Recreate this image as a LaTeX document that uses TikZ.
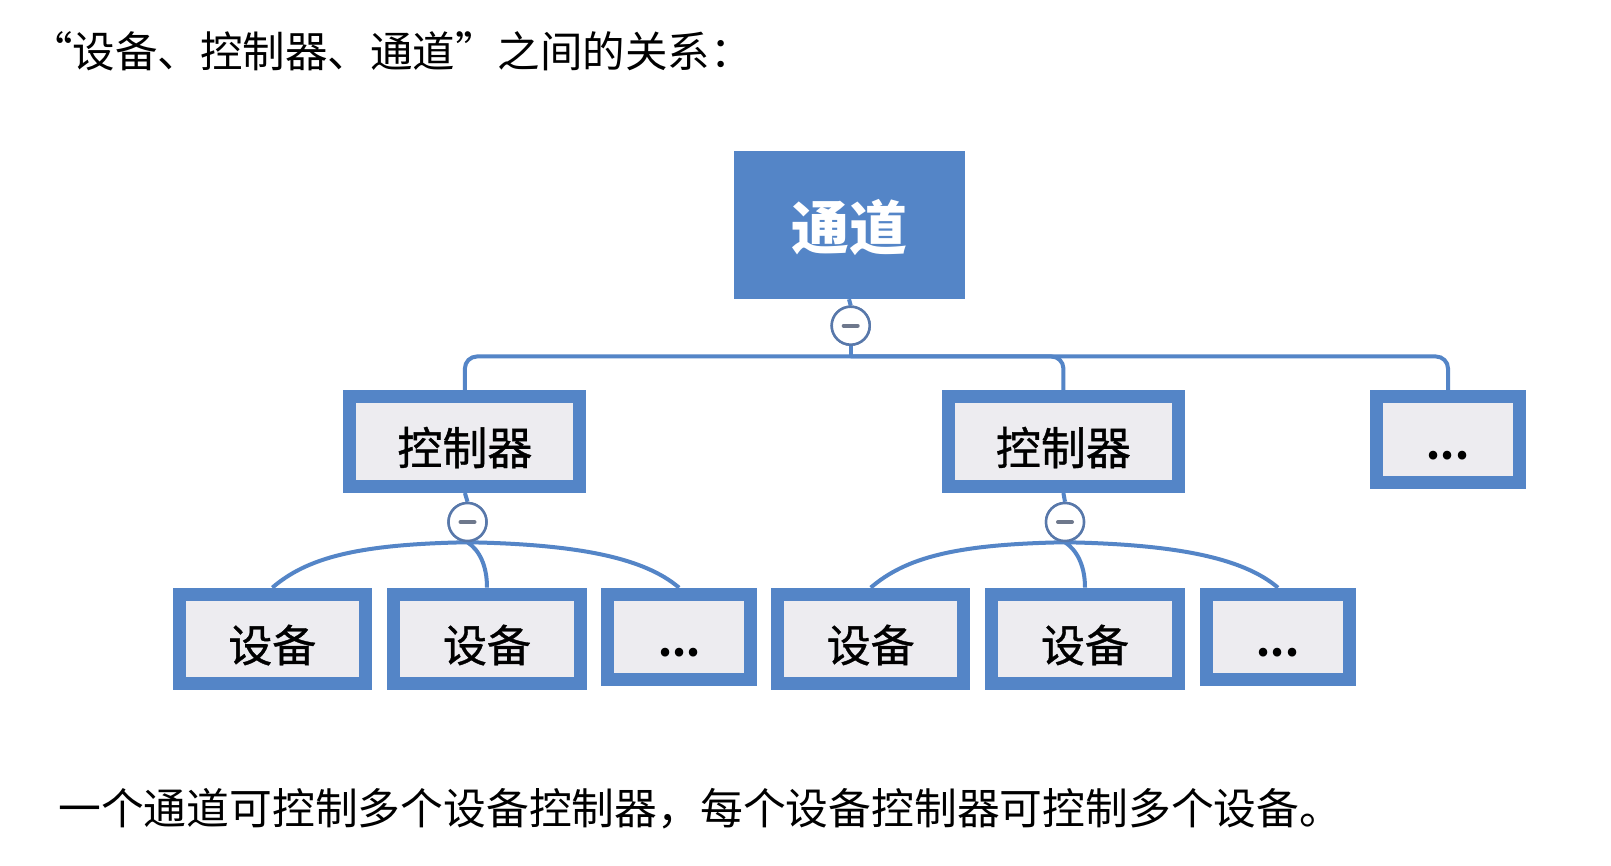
\documentclass[tikz,border=0pt]{standalone}
\usepackage{fontspec}
\usetikzlibrary{calc}
\newfontfamily\cjk{Noto Sans CJK SC}
\newfontfamily\cjkm{Noto Sans CJK SC}[FakeBold=0.8]
\definecolor{bblue}{RGB}{84,133,199}
\definecolor{boxfill}{RGB}{237,236,240}
\definecolor{circcol}{RGB}{88,120,170}
\definecolor{minuscol}{RGB}{110,120,140}
\begin{document}
\begin{tikzpicture}[x=1pt,y=-1pt,
  conn/.style={draw=bblue, line width=4pt},
  boxbase/.style={draw=bblue, line width=13pt, fill=boxfill, inner sep=0pt},
  ctrl/.style={boxbase, minimum width=230pt, minimum height=89.6pt,
     font=\cjkm\fontsize{45}{50}\selectfont, text height=50pt, text depth=4pt},
  dev/.style={boxbase, minimum width=186.3pt, minimum height=89.7pt,
     font=\cjkm\fontsize{44}{50}\selectfont, text height=49.5pt, text depth=4pt},
  ell/.style={boxbase, minimum width=143pt, minimum height=85.6pt,
     font=\cjk\bfseries\fontsize{40}{50}\selectfont, text height=43pt, text depth=4pt},
  minusnode/.style={circle, draw=circcol, line width=2.5pt, fill=white, minimum size=38pt, inner sep=0pt},
  minusbar/.style={draw=minuscol, line width=4pt, line cap=round}
]
\useasboundingbox (0,0) rectangle (1611,866);
\fill[white] (0,0) rectangle (1611,866);

% texts
\node[anchor=west, inner sep=0pt, font=\cjk\fontsize{42.5}{46}\selectfont] (title) at (30,51) {“设备、控制器、通道”之间的关系：};
\node[anchor=west, inner sep=0pt, font=\cjk\fontsize{42.8}{46}\selectfont] (note) at (58,809) {一个通道可控制多个设备控制器，每个设备控制器可控制多个设备。};

% top
\node[fill=bblue, minimum width=231pt, minimum height=148pt, inner sep=0pt, text=white,
      font=\cjk\bfseries\fontsize{58}{60}\selectfont, text height=55pt, text depth=5pt] (ch) at (849,225) {通道};

% controllers
\node[ctrl] (c1) at (464.9,441.7) {控制器};
\node[ctrl] (c2) at (1063.4,441.7) {控制器};
\node[ell] (e0) at (1448,439.7) {...};

% devices
\node[dev] (d1) at (272.3,639) {设备};
\node[dev] (d2) at (487,639) {设备};
\node[ell] (e1) at (679.1,637) {...};
\node[dev] (d3) at (870.7,639) {设备};
\node[dev] (d4) at (1085,639) {设备};
\node[ell] (e2) at (1278,637) {...};

% minus circles
\node[minusnode] (m0) at (850.7,325.7) {};
\node[minusnode] (m1) at (467.5,522) {};
\node[minusnode] (m2) at (1065,522) {};

\coordinate (bar) at (850.7,356.5);

% connectors top level
\draw[conn] (ch.south) -- (m0.north);
\draw[conn] (m0.south) -- (bar);
\draw[conn, rounded corners=12pt] (c1.north) |- (bar) -| (e0.north);
\draw[conn, rounded corners=12pt] (bar) -| (c2.north);

% controller to circles
\draw[conn] (c1.south) -- (m1.north);
\draw[conn] (c2.south) -- (m2.north);

% curves
\foreach \m/\a/\b/\c in {m1/d1/d2/e1, m2/d3/d4/e2}{
  \draw[conn] (\m.south) .. controls ($(\m.south)+(-110,2)$) and ($(\a.north)+(35,-30)$) .. (\a.north);
  \draw[conn] (\m.south) .. controls ($(\m.south)+(12,8)$) and ($(\b.north)+(0,-22)$) .. (\b.north);
  \draw[conn] (\m.south) .. controls ($(\m.south)+(110,2)$) and ($(\c.north)+(-35,-30)$) .. (\c.north);
}

% redraw minus circles on top
\foreach \m in {m0,m1,m2}{
  \node[minusnode] at (\m) {};
  \draw[minusbar] ($(\m.center)+(-7,0)$) -- ($(\m.center)+(7,0)$);
}
\end{tikzpicture}
\end{document}
